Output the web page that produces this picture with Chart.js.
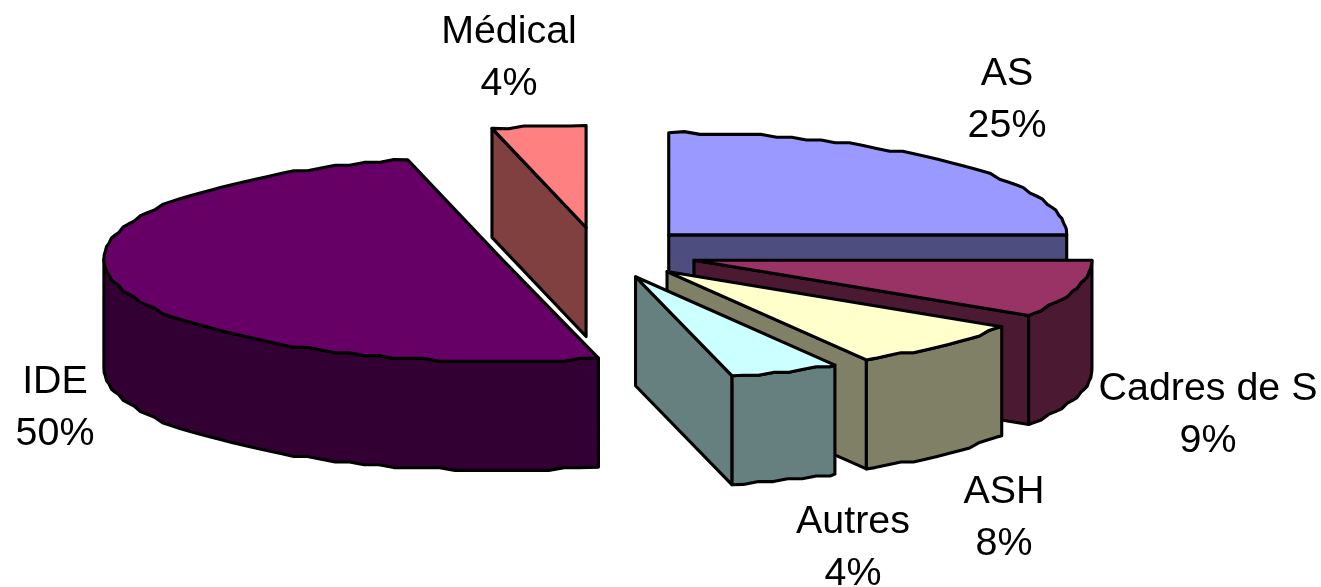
<!DOCTYPE html>
<html>
<head>
<meta charset="utf-8">
<style>html,body{margin:0;padding:0;background:#fff;overflow:hidden}canvas{display:block}</style>
<script src="https://cdn.jsdelivr.net/npm/chart.js@4"></script>
</head>
<body>
<canvas id="c" width="1321" height="587"></canvas>
<script>
const categories = ['AS', 'Cadres de S', 'ASH', 'Autres', 'IDE', 'Médical'];
const values = [25, 9.1, 7.55, 4.45, 50.1, 3.8];
const topColors = ['#9999FF', '#993366', '#FFFFCC', '#CCFFFF', '#660066', '#FF8080'];
const wallColors = ['#4D4D80', '#4C1933', '#808066', '#668080', '#330033', '#804040'];
const explode = [100, 100, 100, 100, 99, 100];
const paintOrder = [5, 0, 1, 2, 3, 4];
const labelCentres = [[1007, 74], [1208, 389], [1004, 492], [853, 522], [55, 382], [509, 32]];

const TILT = 0.2565, DEPTH = 109, LINE = 3.1, LEAD = 52;
const FONT = '39.4px "Liberation Sans", Arial, sans-serif';
const STEP_ANGLE = Math.PI / 80, STEP_Y = 2.8;

const pie3d = {
  id: 'pie3d',
  beforeDatasetsDraw(chart) {
    const ctx = chart.ctx;
    const arcs = chart.getDatasetMeta(0).data;
    ctx.save();
    ctx.lineWidth = LINE;
    ctx.strokeStyle = '#000';
    ctx.lineJoin = 'round';
    for (const i of paintOrder) {
      const a = arcs[i];
      const r = a.outerRadius;
      const mid = (a.startAngle + a.endAngle) / 2;
      const ox = a.x + explode[i] * Math.cos(mid);
      const oy = a.y + explode[i] * Math.sin(mid) * TILT;
      const px = t => ox + r * Math.cos(t);
      const py = t => oy + r * Math.sin(t) * TILT;
      // rim as the coarse, stepped polyline of the original rendering
      const rim = (s, e, dy) => {
        const pts = [[px(s), py(s) + dy]];
        let k = Math.ceil(s / STEP_ANGLE + 0.3);
        for (; k * STEP_ANGLE < e - 0.01; k++) {
          const t = k * STEP_ANGLE;
          pts.push([px(t), Math.round((py(t) + dy) / STEP_Y) * STEP_Y]);
        }
        pts.push([px(e), py(e) + dy]);
        return pts;
      };
      const trace = pts => pts.forEach(p => ctx.lineTo(p[0], p[1]));
      ctx.fillStyle = wallColors[i];
      const wall = ang => {
        ctx.beginPath();
        ctx.moveTo(ox, oy);
        ctx.lineTo(px(ang), py(ang));
        ctx.lineTo(px(ang), py(ang) + DEPTH);
        ctx.lineTo(ox, oy + DEPTH);
        ctx.closePath();
        ctx.fill();
        ctx.stroke();
      };
      // radial walls that face the viewer
      if (Math.cos(a.startAngle) < -1e-6) wall(a.startAngle);
      if (Math.cos(a.endAngle) > 1e-6) wall(a.endAngle);
      // outer wall: the part of the rim in the front half
      const s = Math.max(a.startAngle, 0), e = Math.min(a.endAngle, Math.PI);
      if (e > s) {
        ctx.beginPath();
        trace(rim(s, e, 0));
        trace(rim(s, e, DEPTH).reverse());
        ctx.closePath();
        ctx.fill();
        ctx.stroke();
      }
      // top face: library's own arc element, flattened
      ctx.save();
      ctx.translate(ox, oy);
      ctx.scale(1, TILT);
      ctx.translate(-a.x, -a.y);
      a.draw(ctx);
      ctx.restore();
      // stepped outline of the top face
      ctx.beginPath();
      ctx.moveTo(ox, oy);
      trace(rim(a.startAngle, a.endAngle, 0));
      ctx.closePath();
      ctx.fillStyle = a.options.backgroundColor;
      ctx.fill();
      ctx.stroke();
    }
    ctx.restore();
  },
  beforeDatasetDraw() { return false; },
  afterDraw(chart) {
    const ctx = chart.ctx;
    const total = values.reduce((p, v) => p + v, 0);
    ctx.save();
    ctx.fillStyle = '#000';
    ctx.font = FONT;
    ctx.textAlign = 'center';
    ctx.textBaseline = 'middle';
    categories.forEach((name, i) => {
      const [x, y] = labelCentres[i];
      ctx.fillText(name, x, y);
      ctx.fillText(Math.round(values[i] / total * 100) + '%', x, y + LEAD);
    });
    ctx.restore();
  }
};

new Chart(document.getElementById('c'), {
  type: 'pie',
  data: {
    labels: categories,
    datasets: [{ data: values, backgroundColor: topColors, borderWidth: 0 }]
  },
  options: {
    responsive: false,
    animation: false,
    radius: 398,
    layout: { padding: { left: 0, right: 125, top: 0, bottom: 81 } },
    plugins: { legend: { display: false }, tooltip: { enabled: false }, title: { display: false } }
  },
  plugins: [pie3d]
});
</script>
</body>
</html>
